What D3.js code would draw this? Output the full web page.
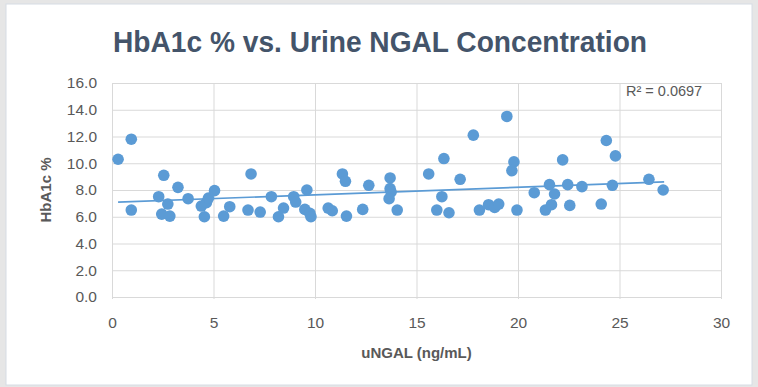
<!DOCTYPE html>
<meta charset="utf-8">
<style>
    body { margin: 0; background: #e6e6e6; }
    svg { display: block; }
    .grid line { stroke: #d9d9d9; stroke-width: 1; }
    .grid path { display: none; }
    .axis path, .axis line { display: none; }
    .axis text { fill: #595959; font-family: "Liberation Sans", Arial, sans-serif; font-size: 15.5px; }
</style>
<svg width="758" height="387"></svg>
<script src="https://d3js.org/d3.v7.min.js"></script>
<script>

// uNGAL (ng/mL) vs HbA1c %
var ngal = [0.3, 0.95, 0.95, 2.3, 2.55, 2.45, 2.75, 2.85, 3.25, 3.75, 4.4, 4.55, 4.65, 4.75, 5.05,
    5.5, 5.8, 6.85, 6.7, 7.3, 7.85, 8.2, 8.45, 8.95, 9.05, 9.6, 9.5, 9.75, 9.8,
    10.65, 10.85, 11.35, 11.5, 11.55, 12.35, 12.65, 13.7, 13.7, 13.75, 13.65, 14.05,
    15.6, 16.35, 16.25, 16.0, 16.6, 17.15, 17.8, 18.1, 18.55, 18.85, 19.05, 19.45, 19.8, 19.7, 19.95,
    20.8, 21.55, 21.8, 21.65, 21.35, 22.2, 22.45, 22.55, 23.15, 24.1, 24.35, 24.8, 24.65, 26.45, 27.15];
var hba1c = [10.3, 11.8, 6.5, 7.5, 9.1, 6.2, 6.95, 6.05, 8.2, 7.35, 6.8, 6.0, 7.05, 7.4, 7.95,
    6.05, 6.75, 9.2, 6.5, 6.35, 7.5, 6.0, 6.65, 7.5, 7.1, 8.0, 6.55, 6.25, 6.0,
    6.65, 6.45, 9.2, 8.65, 6.05, 6.55, 8.35, 8.9, 8.1, 7.85, 7.35, 6.5,
    9.2, 10.35, 7.5, 6.5, 6.3, 8.8, 12.1, 6.5, 6.9, 6.7, 6.95, 13.5, 10.1, 9.45, 6.5,
    7.8, 8.4, 7.7, 6.9, 6.5, 10.25, 8.4, 6.85, 8.25, 6.95, 11.7, 10.55, 8.35, 8.8, 8.0];

// linear trendline end points
var trendX = [0.3, 27.2];
var trendY = [7.09, 8.61];
var rSquared = "R² = 0.0697";

var xTicks = [0, 5, 10, 15, 20, 25, 30];
var yTicks = [0, 2, 4, 6, 8, 10, 12, 14, 16];

var svg = d3.select("svg");

// chart frame
svg.append("rect")
    .attr("x", 6).attr("y", 4)
    .attr("width", 746).attr("height", 381)
    .attr("fill", "#fff")
    .attr("stroke", "#d6dce4").attr("stroke-width", 1);

var margin = {top: 83, left: 112},
    width = 721 - 112,
    height = 297 - 83;

var x = d3.scaleLinear().domain([0, 30]).range([0, width]),
    y = d3.scaleLinear().domain([0, 16]).range([height, 0]);

var g = svg.append("g")
    .attr("transform", "translate(" + margin.left + "," + margin.top + ")");

// gridlines
g.append("g")
    .attr("class", "grid")
    .call(d3.axisLeft(y).tickValues(yTicks).tickSize(-width).tickFormat(""));

g.append("g")
    .attr("class", "grid")
    .call(d3.axisBottom(x).tickValues(xTicks).tickSize(height + 2).tickSizeOuter(0).tickFormat(""))
    .attr("transform", "translate(0," + (height + 2) + ") scale(1,-1)");

// axis lines
g.append("line")
    .attr("x1", 0).attr("x2", width)
    .attr("y1", height + 0.5).attr("y2", height + 0.5)
    .attr("stroke", "#d9d9d9");
g.append("line")
    .attr("x1", 0.5).attr("x2", 0.5)
    .attr("y1", 0).attr("y2", height)
    .attr("stroke", "#d9d9d9");

// tick labels
g.append("g")
    .attr("class", "axis")
    .call(d3.axisLeft(y).tickValues(yTicks).tickSize(0).tickPadding(15).tickFormat(d3.format(".1f")));

g.append("g")
    .attr("class", "axis")
    .attr("transform", "translate(0," + height + ")")
    .call(d3.axisBottom(x).tickValues(xTicks).tickSize(0).tickPadding(20));

// trendline
g.append("line")
    .attr("x1", x(trendX[0])).attr("y1", y(trendY[0]))
    .attr("x2", x(trendX[1])).attr("y2", y(trendY[1]))
    .attr("stroke", "#5b9bd5")
    .attr("stroke-width", 1.6);

// points
g.selectAll(".dot")
    .data(ngal)
    .enter().append("circle")
    .attr("class", "dot")
    .attr("cx", function(d) { return x(d); })
    .attr("cy", function(d, i) { return y(hba1c[i]); })
    .attr("r", 5.8)
    .attr("fill", "#5b9bd5");

// R squared label
g.append("text")
    .attr("x", 514).attr("y", 13)
    .attr("fill", "#595959")
    .style("font-family", "Liberation Sans, Arial, sans-serif")
    .style("font-size", "14.5px")
    .text(rSquared);

// title
var title = svg.append("text")
    .attr("x", 380).attr("y", 52)
    .attr("text-anchor", "middle")
    .attr("fill", "#44546a")
    .style("font-family", "Liberation Sans, Arial, sans-serif")
    .style("font-weight", "bold")
    .style("font-size", "29px")
    .text("HbA1c % vs. Urine NGAL Concentration");
if (title.node().getComputedTextLength() > 534) {
    title.attr("textLength", 534).attr("lengthAdjust", "spacingAndGlyphs");
}

// axis titles
svg.append("text")
    .attr("x", margin.left + width / 2).attr("y", 358)
    .attr("text-anchor", "middle")
    .attr("fill", "#595959")
    .style("font-family", "Liberation Sans, Arial, sans-serif")
    .style("font-weight", "bold")
    .style("font-size", "15px")
    .text("uNGAL (ng/mL)");

svg.append("text")
    .attr("transform", "translate(51," + (margin.top + height / 2) + ") rotate(-90)")
    .attr("text-anchor", "middle")
    .attr("fill", "#595959")
    .style("font-family", "Liberation Sans, Arial, sans-serif")
    .style("font-weight", "bold")
    .style("font-size", "15px")
    .text("HbA1c %");

</script>
